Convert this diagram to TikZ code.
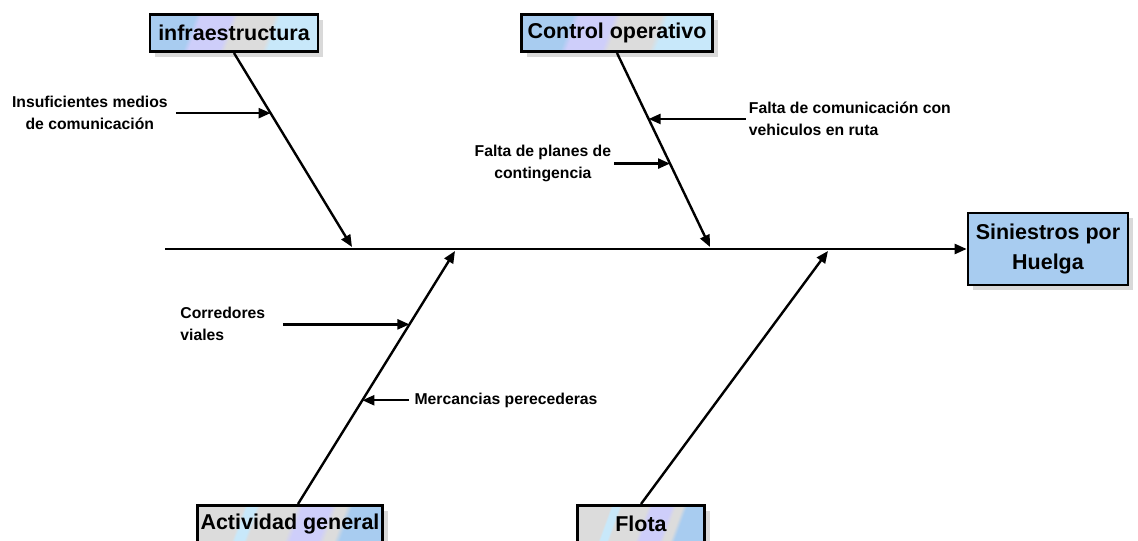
\documentclass[tikz,border=0pt]{standalone}
\usepackage{fontspec}
\setmainfont{Liberation Sans}
\usetikzlibrary{arrows.meta, positioning, shadows}
\definecolor{celeste}{RGB}{168,204,240}
\definecolor{lavanda}{RGB}{206,206,250}
\definecolor{gris}{RGB}{220,220,220}
\definecolor{cian}{RGB}{200,232,250}
\pgfdeclarehorizontalshading{bandas arriba}{100bp}{%
  color(0bp)=(celeste); color(34bp)=(celeste); color(36bp)=(lavanda);
  color(47bp)=(lavanda); color(49bp)=(gris); color(62bp)=(gris);
  color(64bp)=(cian); color(100bp)=(cian)}
\pgfdeclarehorizontalshading{bandas abajo}{100bp}{%
  color(0bp)=(gris); color(33bp)=(gris); color(34bp)=(cian); color(37bp)=(cian);
  color(38bp)=(gris); color(50bp)=(gris); color(52bp)=(lavanda);
  color(61bp)=(lavanda); color(63bp)=(gris); color(66bp)=(gris);
  color(68bp)=(celeste); color(100bp)=(celeste)}
\tikzset{
  caja/.style = {draw, line width=2pt, inner sep=2pt, align=center,
                 font=\bfseries\fontsize{16.1}{22}\selectfont,
                 drop shadow={shadow xshift=4pt, shadow yshift=-4pt,
                              fill=black!15, opacity=1}},
  caja arriba/.style = {caja, shading=bandas arriba, shading angle=-20,
                        minimum height=28pt},
  caja abajo/.style = {caja, shading=bandas abajo, shading angle=-20,
                       minimum height=28pt},
  causa/.style = {font=\bfseries\fontsize{11.8}{16.5}\selectfont, inner sep=0pt},
  link/.style = {line width=1.8pt, arrows={-Triangle[length=9pt, width=7.5pt]}},
}

\begin{document}
\begin{tikzpicture}[x=0.75pt, y=-0.75pt]
  \useasboundingbox (0,0) rectangle (1138,541);

  %% Effect box and the spine
  \node [caja, fill=celeste, minimum width=120pt, minimum height=54pt]
        (efecto) at (1048,249) {Siniestros por\\Huelga};
  \coordinate (spine start) at (165,249);
  \draw [link] (spine start) -- (efecto.west);

  %% The four main categories
  \node [caja arriba, minimum width=126pt] (infra) at (234,33) {infraestructura};
  \node [caja arriba, minimum width=143pt] (control) at (617,33) {Control operativo};
  \node [caja abajo, minimum width=139pt] (actividad) at (290,524) {Actividad general};
  \node [caja abajo, minimum width=95pt] (flota) at (641,524) {Flota};

  %% Branches meeting the spine
  \coordinate (infra end) at (352,247);
  \coordinate (control end) at (710,247);
  \coordinate (actividad end) at (455,251);
  \coordinate (flota end) at (828,251);
  \draw [link] (infra.south) -- (infra end)
    coordinate [pos=0.31] (infra_1);
  \draw [link] (control.south) -- (control end)
    coordinate [pos=0.34] (control_1)
    coordinate [pos=0.57] (control_2);
  \draw [link] ([xshift=6pt] actividad.north) -- (actividad end)
    coordinate [pos=0.71] (actividad_1)
    coordinate [pos=0.41] (actividad_2);
  \draw [link] (flota.north) -- (flota end);

  %% Sub-causes
  \node [causa, align=center, left=77pt of infra_1] (infra_c1)
        {Insuficientes medios\\de comunicaci\'on};
  \draw [link] ([xshift=6pt] infra_c1.east) -- (infra_1);

  \node [causa, align=left, right=75pt of control_1] (control_c1)
        {Falta de comunicaci\'on con\\vehiculos en ruta};
  \draw [link] ([xshift=-2pt] control_c1.west) -- (control_1);

  \node [causa, align=center, left=44pt of control_2] (control_c2)
        {Falta de planes de\\contingencia};
  \draw [link] ([xshift=2pt] control_c2.east) -- (control_2);

  \node [causa, align=left, left=108pt of actividad_1] (actividad_c1)
        {Corredores\\viales};
  \draw [link] ([xshift=13pt] actividad_c1.east) -- (actividad_1);

  \node [causa, right=39pt of actividad_2] (actividad_c2)
        {Mercancias perecederas};
  \draw [link] ([xshift=-4pt] actividad_c2.west) -- (actividad_2);
\end{tikzpicture}
\end{document}
